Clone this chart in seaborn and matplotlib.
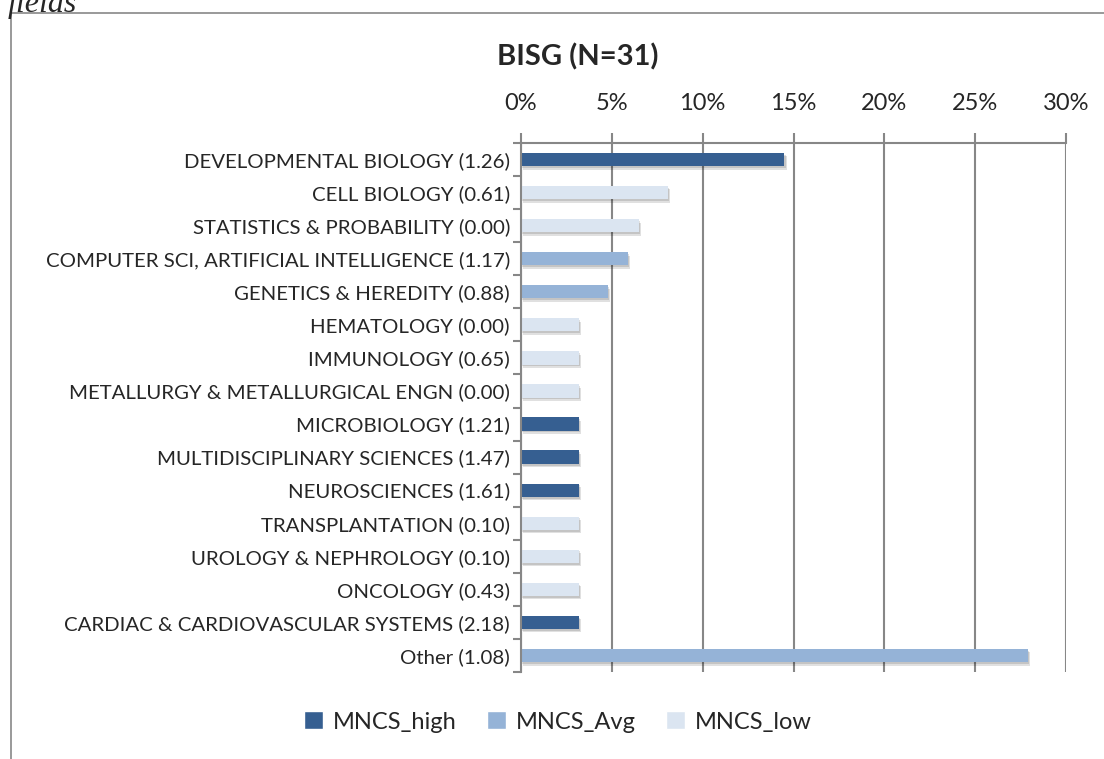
import matplotlib
matplotlib.use("Agg")
import matplotlib.pyplot as plt
import matplotlib.patheffects as pe
from matplotlib.patches import Patch
import seaborn as sns
import pandas as pd
import numpy as np

categories = [
    "DEVELOPMENTAL BIOLOGY (1.26)",
    "CELL BIOLOGY (0.61)",
    "STATISTICS & PROBABILITY (0.00)",
    "COMPUTER SCI, ARTIFICIAL INTELLIGENCE (1.17)",
    "GENETICS & HEREDITY (0.88)",
    "HEMATOLOGY (0.00)",
    "IMMUNOLOGY (0.65)",
    "METALLURGY & METALLURGICAL ENGN (0.00)",
    "MICROBIOLOGY (1.21)",
    "MULTIDISCIPLINARY SCIENCES (1.47)",
    "NEUROSCIENCES (1.61)",
    "TRANSPLANTATION (0.10)",
    "UROLOGY & NEPHROLOGY (0.10)",
    "ONCOLOGY (0.43)",
    "CARDIAC & CARDIOVASCULAR SYSTEMS (2.18)",
    "Other (1.08)",
]
shares = [14.5, 8.1, 6.5, 5.9, 4.8, 3.2, 3.2, 3.2, 3.2, 3.2, 3.2, 3.2, 3.2, 3.2, 3.2, 27.9]
groups = ["MNCS_high", "MNCS_low", "MNCS_low", "MNCS_Avg", "MNCS_Avg",
          "MNCS_low", "MNCS_low", "MNCS_low", "MNCS_high", "MNCS_high",
          "MNCS_high", "MNCS_low", "MNCS_low", "MNCS_low", "MNCS_high", "MNCS_Avg"]
legend_order = ["MNCS_high", "MNCS_Avg", "MNCS_low"]
colors = {"MNCS_high": "#365F91", "MNCS_Avg": "#95B3D7", "MNCS_low": "#DBE5F1"}

df = pd.DataFrame({"category": categories, "share": shares, "group": groups})

font = "Lato"
sns.set_style("white")
plt.rcParams["font.family"] = [font, "DejaVu Sans"]

W, H = 1104, 759
fig = plt.figure(figsize=(W / 100, H / 100), dpi=100)
ax = fig.add_axes([521 / W, 1 - 672 / H, (1066 - 521) / W, (672 - 143) / H])

sns.barplot(data=df, y="category", x="share", hue="group", hue_order=legend_order,
            palette=colors, dodge=False, width=0.4, orient="h", ax=ax, legend=False,
            saturation=1)

for p in ax.patches:
    p.set_edgecolor("none")
    p.set_path_effects([pe.SimplePatchShadow(offset=(1.5, -2.5), shadow_rgbFace="#000000", alpha=0.12),
                        pe.SimplePatchShadow(offset=(0.8, -1.3), shadow_rgbFace="#000000", alpha=0.12),
                        pe.Normal()])

ax.set_xlim(0, 30)
ax.set_ylim(len(categories) - 0.5, -0.5)
ax.set_xticks(np.arange(0, 31, 5))
ax.set_xticklabels([f"{v}%" for v in range(0, 31, 5)], fontsize=17)
ax.xaxis.tick_top()
ax.tick_params(axis="x", which="major", direction="out", length=7, width=1.5,
               color="#878787", pad=14, top=True, bottom=False)
ax.xaxis.grid(True, color="#878787", linewidth=1.5)
ax.set_axisbelow(True)

ax.set_yticks(range(len(categories)))
ax.set_yticklabels(categories, fontsize=14.7)
ax.tick_params(axis="y", which="major", length=0, pad=8)
ax.set_yticks(np.arange(-0.5, len(categories), 1), minor=True)
ax.tick_params(axis="y", which="minor", direction="out", length=6, width=1.5, color="#878787", left=True)

ax.set_xlabel("")
ax.set_ylabel("")
for s in ["right", "bottom"]:
    ax.spines[s].set_visible(False)
for s in ["left", "top"]:
    ax.spines[s].set_color("#878787")
    ax.spines[s].set_linewidth(1.5)

fig.text(578 / W, 1 - 57 / H, "BISG (N=31)", ha="center", va="center",
         fontsize=21, fontweight="bold")

fig.text(8 / W, 1 - 12 / H, "fields", ha="left", va="baseline", fontsize=23,
         style="italic", family="Liberation Serif")

# outer frame (top and left edges)
fig.add_artist(plt.Line2D([11 / W, 1], [1 - 13 / H, 1 - 13 / H], color="#878787", lw=1.2))
fig.add_artist(plt.Line2D([11 / W, 11 / W], [0, 1 - 13 / H], color="#878787", lw=1.2))

handles = [Patch(facecolor=colors[g], label=g) for g in legend_order]
fig.legend(handles=handles, loc="center", bbox_to_anchor=(558 / W, 1 - 722 / H),
           ncol=3, frameon=False, fontsize=17, handlelength=0.8, handleheight=0.8,
           handletextpad=0.4, columnspacing=1.3)

fig.savefig("out.png", dpi=100)
